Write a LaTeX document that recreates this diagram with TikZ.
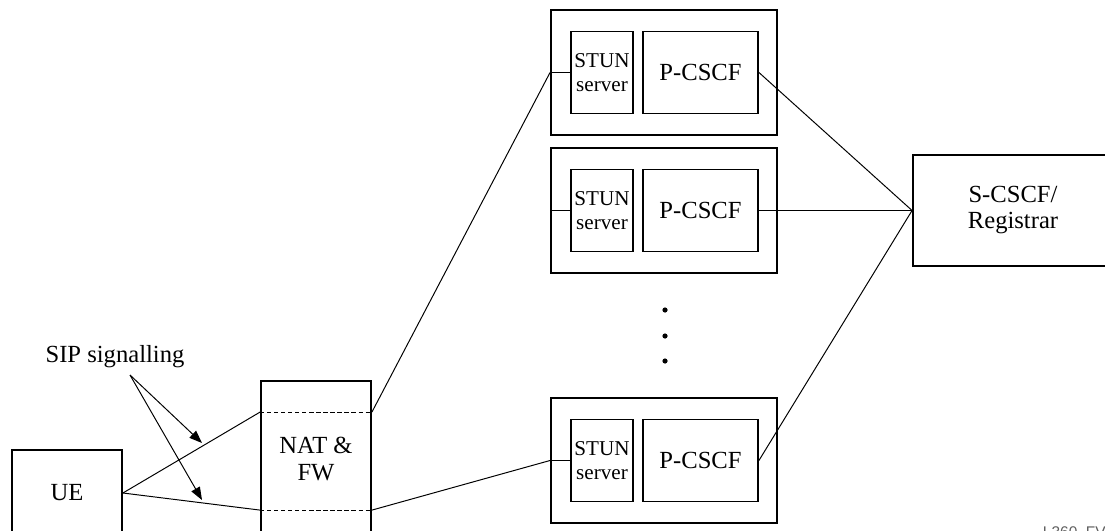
\documentclass[tikz,border=0pt]{standalone}
\usepackage{fontspec}
\setmainfont{Liberation Serif}
\setsansfont{Liberation Sans}
\usepackage{tikz}
\usetikzlibrary{positioning,arrows.meta,calc}
\definecolor{labelgrey}{RGB}{95,95,95}

\begin{document}
\begin{tikzpicture}[x=0.025cm,y=-0.025cm,
    box/.style={draw,line width=1.3pt,inner sep=0pt,align=center,
      font=\fontsize{17.5}{18.5}\selectfont},
    stunbox/.style={box,minimum width=1.55cm,minimum height=2.05cm,
      font=\fontsize{15}{17}\selectfont},
    link/.style={line width=0.7pt},
    natcut/.style={line width=0.8pt,dash pattern=on 3pt off 2pt},
    sigarrow/.style={line width=0.7pt,-{Triangle[length=3.2mm,width=2.4mm]}}]
  \useasboundingbox (0,0) rectangle (1105,531);
  \clip (0,0) rectangle (1105,531);

  % terminal side
  \node[box,minimum width=2.75cm,minimum height=2.15cm] (ue) at (67,493) {UE};
  \node[box,minimum width=2.75cm,minimum height=3.9cm] (nat) at (316,459) {NAT \&\\FW};
  \coordinate (natUL) at ([yshift=-0.8cm]nat.north west);
  \coordinate (natUR) at ([yshift=-0.8cm]nat.north east);
  \coordinate (natLL) at ([yshift=-3.25cm]nat.north west);
  \coordinate (natLR) at ([yshift=-3.25cm]nat.north east);
  \draw[natcut] (natUL) -- (natUR);
  \draw[natcut] (natLL) -- (natLR);

  % home side
  \node[box,minimum width=5cm,minimum height=2.775cm] (scscf) at (1013,210.5) {S-CSCF/\\Registrar};

  % P-CSCF hosts: name / centre row
  \foreach \grp/\yy in {a/72.5, b/210.5, c/460.5} {
    \node[box,minimum width=5.65cm,minimum height=3.125cm] (host\grp) at (664,\yy) {};
    \node[stunbox] (stun\grp) at (602,\yy) {STUN\\server};
    \node[box,minimum width=2.875cm,minimum height=2.05cm] (pcscf\grp) at (700.5,\yy) {P-CSCF};
    \draw[link] (host\grp.west) -- (stun\grp.west);
    \draw[link] (pcscf\grp.east) -- (scscf.west);
  }
  \foreach \yy in {310,336,361}
    \fill (665,\yy) circle (2.6);

  % signalling paths
  \draw[link] (ue.east) -- (natUL);
  \draw[link] (ue.east) -- (natLL);
  \draw[link] (natUR) -- (hosta.west);
  \draw[link] (natLR) -- (hostc.west);

  % label with its two arrows
  \node[font=\fontsize{17.5}{18.5}\selectfont] (sip) at (115,357) {SIP signalling};
  \coordinate (sipfoot) at (130,375);
  \coordinate (tipup) at (202,443);
  \coordinate (tipdown) at (202,500);
  \draw[sigarrow] (sipfoot) -- (tipup);
  \draw[sigarrow] (sipfoot) -- (tipdown);

  \node[font=\sffamily\fontsize{11}{13}\selectfont,text=labelgrey,anchor=base west] (figid) at (1038,537) {L360\_FV};
\end{tikzpicture}
\end{document}
